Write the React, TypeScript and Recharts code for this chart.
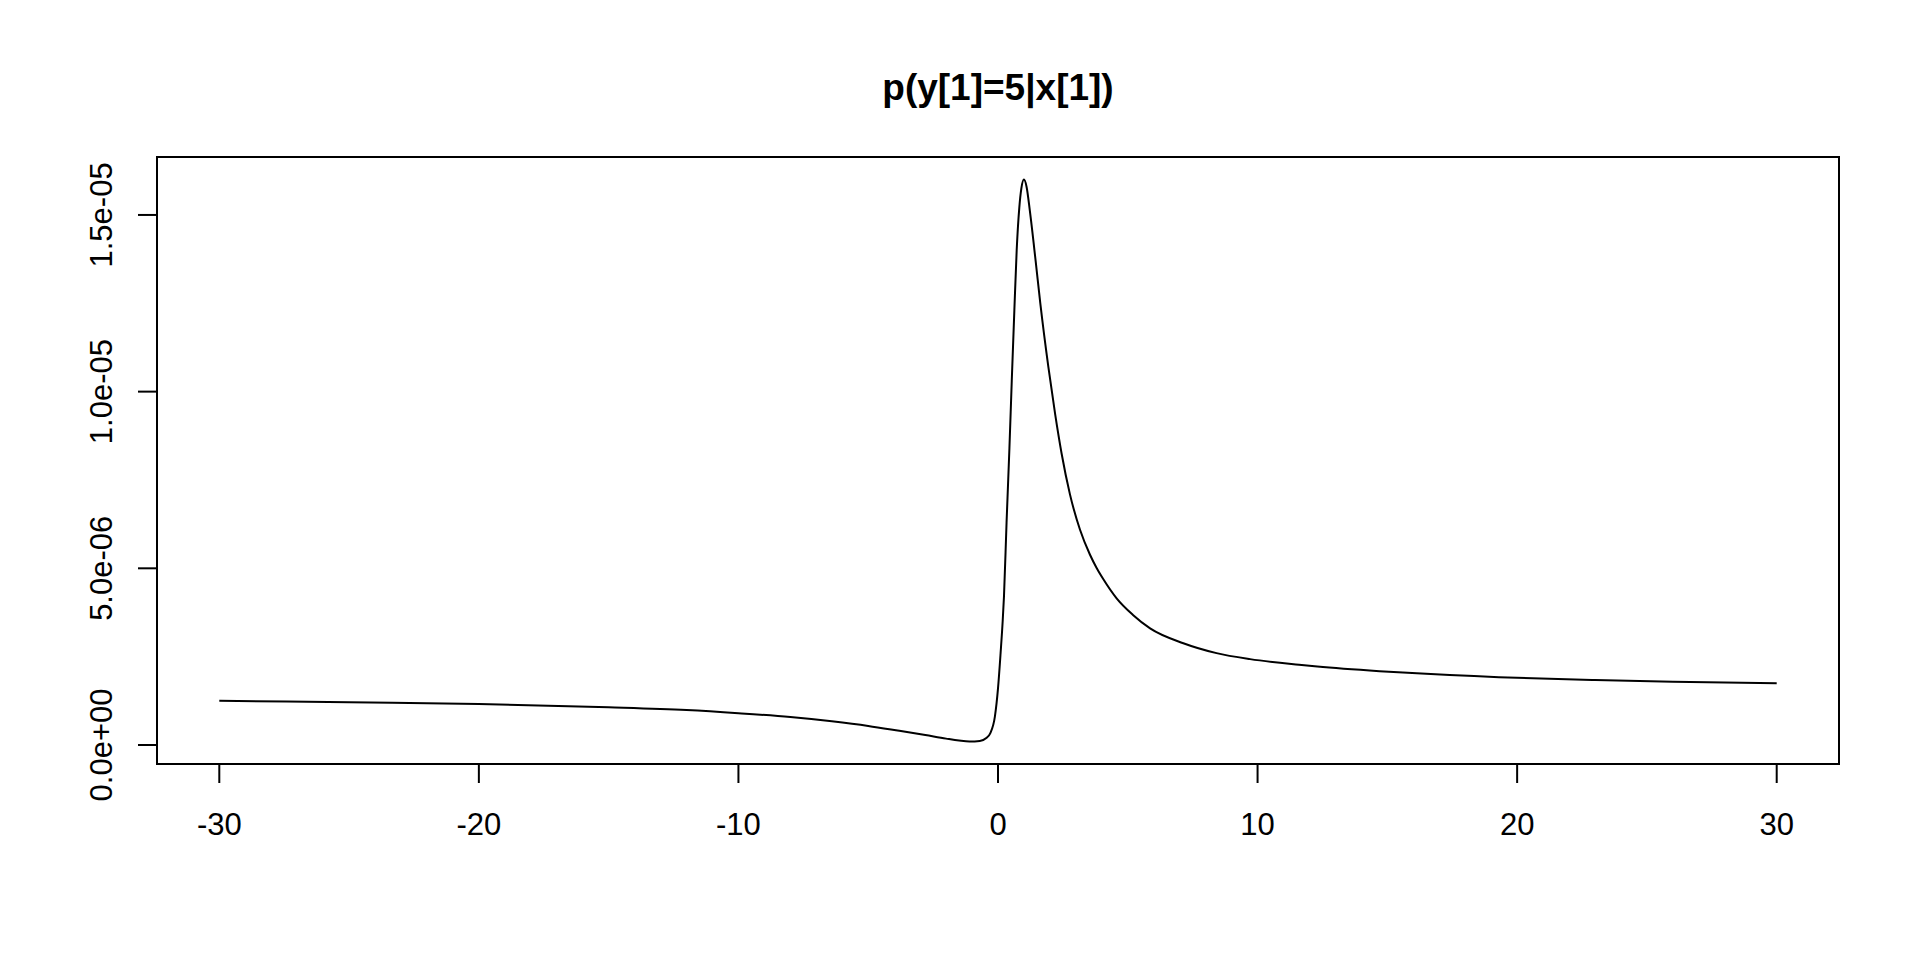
import React from "react";
import { LineChart, Line, XAxis, YAxis, ReferenceArea } from "recharts";

const titleText = "p(y[1]=5|x[1])";

const xValues = [
  -30, -25, -20, -15, -12, -10, -8, -6.4, -5, -3.8, -2.8, -2.0, -1.5, -1.1, -0.7, -0.45, -0.3, -0.12, 0.0,
  0.1, 0.18, 0.23, 0.33, 0.44, 0.53, 0.63, 0.72, 0.82, 0.9, 1.0, 1.1, 1.23, 1.45, 1.63, 1.94, 2.2, 2.45,
  2.77, 3.16, 3.54, 3.8, 4.06, 4.57, 5.2, 5.86, 7.14, 8.42, 9.71, 11.6, 12.3, 14.7, 15.6, 19.3, 23.0, 26.0,
  30.0,
];

const yValuesE6 = [
  1.25, 1.21, 1.16, 1.07, 0.99, 0.9, 0.79, 0.67, 0.54, 0.4, 0.28, 0.18, 0.125, 0.098, 0.115, 0.2, 0.33, 0.8,
  1.6, 2.6, 3.5, 4.2, 6.3, 8.4, 10.3, 12.3, 14.0, 15.2, 15.75, 16.0, 15.8, 15.1, 13.7, 12.5, 10.7, 9.37,
  8.25, 7.1, 6.09, 5.39, 5.01, 4.69, 4.15, 3.68, 3.3, 2.88, 2.6, 2.43, 2.27, 2.22, 2.09, 2.05, 1.92, 1.84,
  1.79, 1.75,
];

const xTicks = [-30, -20, -10, 0, 10, 20, 30];
const yTicks = [0, 5e-6, 1e-5, 1.5e-5];
const yTickLabels = ["0.0e+00", "5.0e-06", "1.0e-05", "1.5e-05"];

const xDomain: [number, number] = [-32.4, 32.4];
const yDomain: [number, number] = [-0.538e-6, 16.64e-6];

const data = xValues.map((x, i) => ({ x, y: yValuesE6[i] * 1e-6 }));

const FONT = '"Liberation Sans", Arial, Helvetica, sans-serif';

const XTick = (props: any) => {
  const { x, y, payload } = props;
  return (
    <text x={x} y={y + 52} textAnchor="middle" fontSize={31} fontFamily={FONT} fill="#000">
      {String(payload.value)}
    </text>
  );
};

const YTick = (props: any) => {
  const { x, y, payload } = props;
  const idx = yTicks.indexOf(payload.value);
  const label = idx >= 0 ? yTickLabels[idx] : String(payload.value);
  return (
    <text
      transform={`translate(${x - 37.5},${y}) rotate(-90)`}
      dy={11}
      textAnchor="middle"
      fontSize={31}
      fontFamily={FONT}
      fill="#000"
    >
      {label}
    </text>
  );
};

export default function App() {
  return (
    <div style={{ position: "absolute", left: 0, top: 0, width: 1920, height: 960, background: "#fff" }}>
      <svg width={1920} height={130} style={{ position: "absolute", left: 0, top: 0 }}>
        <text x={998} y={100} textAnchor="middle" fontSize={37} fontWeight="bold" fontFamily={FONT} fill="#000">
          {titleText}
        </text>
      </svg>
      <div style={{ position: "absolute", left: 0, top: 0 }}>
        <LineChart width={1920} height={960} data={data} margin={{ top: 157, right: 81, bottom: 136, left: 97 }}>
          <XAxis
            dataKey="x"
            type="number"
            domain={xDomain}
            allowDataOverflow
            ticks={xTicks}
            interval={0}
            height={60}
            axisLine={false}
            tickSize={19}
            tickMargin={0}
            stroke="#000"
            tickLine={{ stroke: "#000", strokeWidth: 2 }}
            tick={<XTick />}
          />
          <YAxis
            dataKey="y"
            type="number"
            domain={yDomain}
            allowDataOverflow
            ticks={yTicks}
            interval={0}
            width={60}
            axisLine={false}
            tickSize={19}
            tickMargin={0}
            stroke="#000"
            tickLine={{ stroke: "#000", strokeWidth: 2 }}
            tick={<YTick />}
          />
          <ReferenceArea
            x1={xDomain[0]}
            x2={xDomain[1]}
            y1={yDomain[0]}
            y2={yDomain[1]}
            fill="none"
            fillOpacity={0}
            stroke="#000"
            strokeWidth={2}
            ifOverflow="visible"
          />
          <Line
            type="monotone"
            dataKey="y"
            stroke="#000"
            strokeWidth={2}
            dot={false}
            isAnimationActive={false}
          />
        </LineChart>
      </div>
    </div>
  );
}
